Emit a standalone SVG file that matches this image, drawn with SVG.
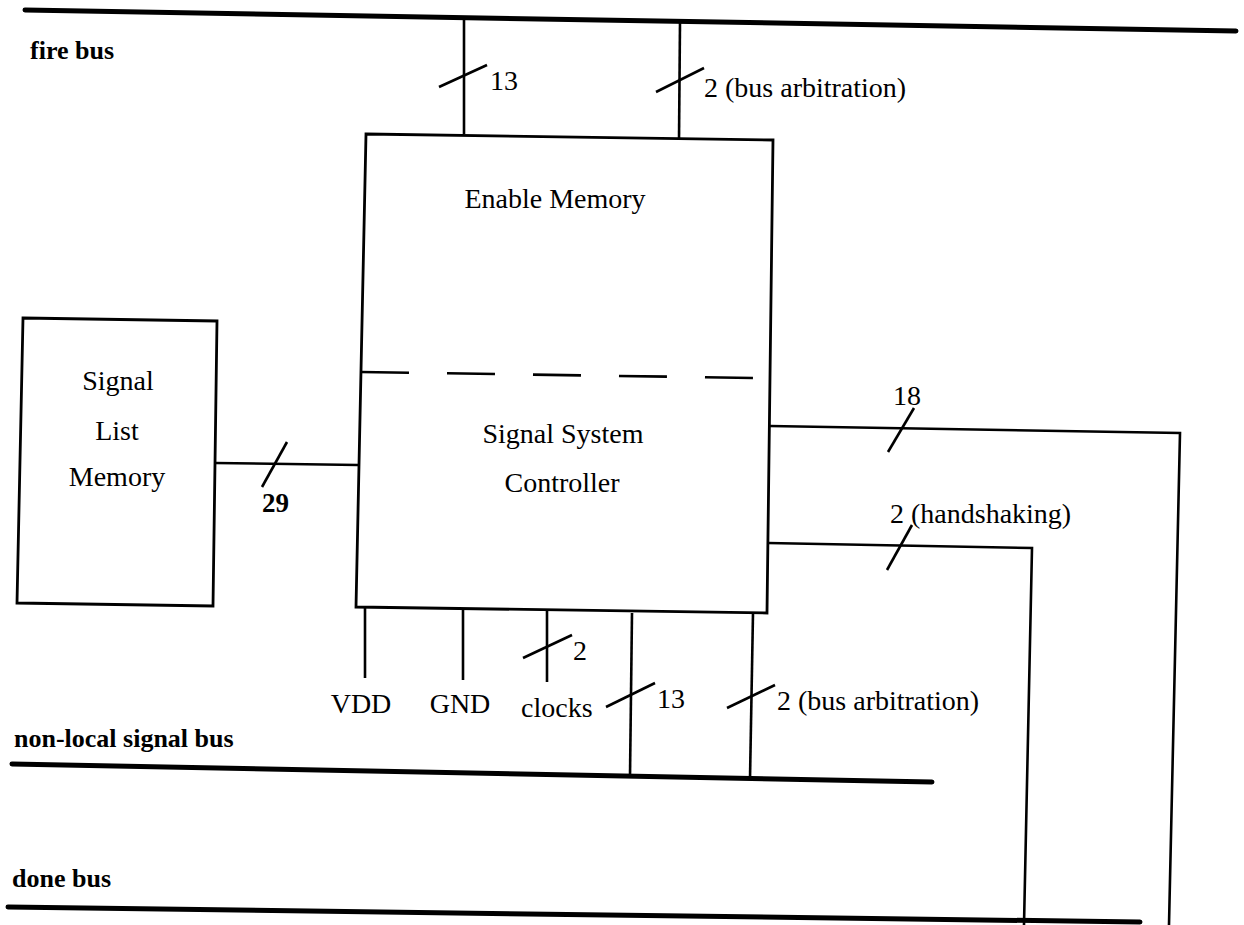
<svg xmlns="http://www.w3.org/2000/svg" width="1244" height="925" viewBox="0 0 1244 925">
<style>
.bus{stroke:#000;stroke-width:5;fill:none;stroke-linecap:round}
.ln{stroke:#000;stroke-width:2.6;fill:none}
.box{stroke:#000;stroke-width:2.8;fill:none}
.t{font-family:"Liberation Serif","Times New Roman",serif;font-size:28px;fill:#000}
.b{font-family:"Liberation Serif","Times New Roman",serif;font-size:26px;font-weight:bold;fill:#000}
.m{text-anchor:middle}
</style>
<rect width="1244" height="925" fill="#fff"/>
<g id="buses">
<path class="bus" d="M25 10 L1236 31"/>
<text class="b" x="30" y="59">fire bus</text>
<path class="bus" d="M12 764 L932 782"/>
<text class="b" x="14" y="747">non-local signal bus</text>
<path class="bus" d="M8 907 L1140 922"/>
<text class="b" x="12" y="887">done bus</text>
</g>
<g id="main-box">
<path class="box" d="M366 134 L773 140 L767 613 L356 607 Z"/>
<path class="ln" d="M361 372 L755 378" stroke-dasharray="48 38"/>
<text class="t m" x="555" y="208">Enable Memory</text>
<text class="t m" x="563" y="443">Signal System</text>
<text class="t m" x="562" y="492">Controller</text>
</g>
<g id="signal-list-memory">
<path class="box" d="M23 318 L217 321 L213 606 L17 603 Z"/>
<text class="t m" x="118" y="390">Signal</text>
<text class="t m" x="117" y="440">List</text>
<text class="t m" x="117" y="486">Memory</text>
</g>
<g id="connectors">
<path class="ln" d="M464 18 L464 134"/>
<path class="ln" d="M439 87 L487 65"/>
<text class="t" x="490" y="90">13</text>
<path class="ln" d="M680 22 L679 140"/>
<path class="ln" d="M656 92 L704 68"/>
<text class="t" x="704" y="97">2 (bus arbitration)</text>
<path class="ln" d="M215 463 L358 465"/>
<path class="ln" d="M262 487 L287 442"/>
<text class="b" x="262" y="512" style="font-size:27px">29</text>
<path class="ln" d="M770 426 L1180 433 L1169 925"/>
<path class="ln" d="M888 452 L914 408"/>
<text class="t" x="893" y="405">18</text>
<path class="ln" d="M768 543 L1032 548 L1024 925"/>
<path class="ln" d="M887 570 L912 525"/>
<text class="t" x="890" y="523">2 (handshaking)</text>
<path class="ln" d="M365 607 L365 678"/>
<text class="t m" x="361" y="713">VDD</text>
<path class="ln" d="M463 609 L463 680"/>
<text class="t m" x="460" y="713">GND</text>
<path class="ln" d="M547 610 L547 682"/>
<path class="ln" d="M523 658 L572 635"/>
<text class="t" x="573" y="660">2</text>
<text class="t" x="521" y="717">clocks</text>
<path class="ln" d="M632 613 L630 776"/>
<path class="ln" d="M606 707 L655 683"/>
<text class="t" x="657" y="708">13</text>
<path class="ln" d="M753 613 L750 779"/>
<path class="ln" d="M727 708 L775 685"/>
<text class="t" x="777" y="710">2 (bus arbitration)</text>
</g>
</svg>
